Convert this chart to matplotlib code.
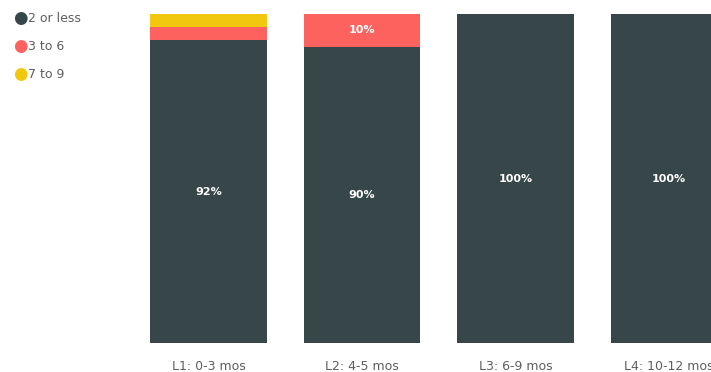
import numpy as np
import matplotlib.pyplot as plt

categories = ["L1: 0-3 mos", "L2: 4-5 mos", "L3: 6-9 mos", "L4: 10-12 mos"]
series_names = ["2 or less", "3 to 6", "7 to 9"]
low = [92, 90, 100, 100]
mid = [4, 10, 0, 0]
high = [4, 0, 0, 0]
colors = ["#374649", "#FD625E", "#F2C80F"]

fig = plt.figure(figsize=(7.11, 3.72), dpi=100)
ax = fig.add_axes([131 / 711, 29 / 372, 580 / 711, 329 / 372])

x = np.arange(len(categories))
w = 0.762
bottom = np.zeros(len(categories))
for vals, col in zip([low, mid, high], colors):
    vals = np.array(vals, dtype=float)
    ax.bar(x, vals, w, bottom=bottom, color=col, linewidth=0)
    for xi, v, b in zip(x, vals, bottom):
        if v >= 8:
            ax.text(xi, b + v / 2, f"{v:.0f}%", ha="center", va="center",
                    color="white", fontsize=8, fontweight="bold")
    bottom += vals

ax.set_xlim((131 - 208.5) / 153.5, (711 - 208.5) / 153.5)
ax.set_ylim(0, 100)
ax.set_xticks(x)
ax.set_xticklabels(categories, color="#605E5C", fontsize=9)
ax.tick_params(axis="x", length=0, pad=12)
ax.set_yticks([])
for s in ax.spines.values():
    s.set_visible(False)

# legend
for i, (name, col) in enumerate(zip(series_names, colors)):
    yy = 1 - (18 + 28 * i) / 372
    fig.text(20 / 711, yy, "\u25CF", color=col, fontsize=12, ha="center", va="center")
    fig.text(28 / 711, yy, name, color="#605E5C", fontsize=9, ha="left", va="center")

fig.savefig("out.png", dpi=100)
